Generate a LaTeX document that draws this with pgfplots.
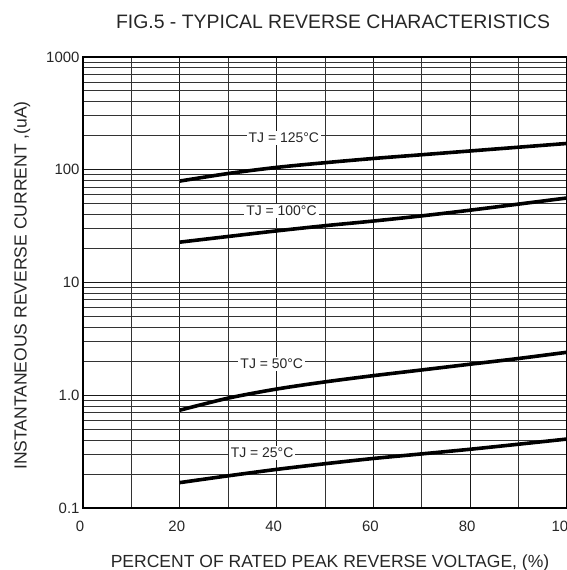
\documentclass[border=0pt]{standalone}
\usepackage{pgfplots}
\pgfplotsset{compat=1.18}
\usepackage{fontspec}
\setmainfont{Liberation Sans}
\begin{document}
\begin{tikzpicture}
\begin{axis}[
  name=ax,
  scale only axis,
  width=484bp, height=451bp,
  xmin=0, xmax=100,
  ymode=log, ymin=0.1, ymax=1000,
  xtick={0,20,40,60,80,100},
  xticklabels={0,20,40,60,80,100},
  minor xtick={10,30,50,70,90},
  ytick={0.1,1,10,100,1000},
  yticklabels={0.1,1.0,10,100,1000},
  minor ytick={0.2,0.3,0.4,0.5,0.6,0.7,0.8,0.9,2,3,4,5,6,7,8,9,20,30,40,50,60,70,80,90,200,300,400,500,600,700,800,900},
  grid=both,
  major grid style={black!90, line width=1.1bp},
  minor grid style={black!80, line width=1bp},
  axis line style={black, line width=1.8bp},
  tick style={draw=none},
  major tick length=0pt, minor tick length=0pt,
  ticklabel style={font=\fontsize{15}{17}\selectfont, text=black!85},
  xticklabel style={yshift=-10bp, xshift=-3bp},
  yticklabel style={xshift=0bp},
]
\addplot[black, line width=3.6bp, smooth] coordinates {
 (20,79.4) (30,92.6) (40,104.9) (50,115.5) (60,125.9) (70,135.9) (80,146.8) (90,158.5) (100,171.1)};
\addplot[black, line width=3.6bp, smooth] coordinates {
 (20,22.8) (30,25.6) (40,28.7) (50,31.9) (60,35.1) (70,39.0) (80,43.8) (90,49.6) (100,56.2)};
\addplot[black, line width=3.6bp, smooth] coordinates {
 (20,0.737) (30,0.943) (40,1.135) (50,1.314) (60,1.492) (70,1.677) (80,1.886) (90,2.119) (100,2.406)};
\addplot[black, line width=3.6bp, smooth] coordinates {
 (20,0.168) (30,0.193) (40,0.220) (50,0.247) (60,0.275) (70,0.302) (80,0.332) (90,0.368) (100,0.409)};
\node[fill=white, inner sep=2bp, font=\fontsize{14}{16}\selectfont, text=black!85] at (axis cs:41.5,192) {TJ = 125°C};
\node[fill=white, inner sep=2bp, font=\fontsize{14}{16}\selectfont, text=black!85] at (axis cs:41,43) {TJ = 100°C};
\node[fill=white, inner sep=2bp, font=\fontsize{14}{16}\selectfont, text=black!85] at (axis cs:39,1.9) {TJ = 50°C};
\node[fill=white, inner sep=2bp, font=\fontsize{14}{16}\selectfont, text=black!85] at (axis cs:37,0.31) {TJ = 25°C};
\end{axis}
\node[anchor=base, font=\fontsize{19.5}{22}\selectfont, text=black!85] at ([xshift=8bp, yshift=28bp]ax.north) {FIG.5 - TYPICAL REVERSE CHARACTERISTICS};
\node[anchor=base, font=\fontsize{17.6}{20}\selectfont, text=black!85] at ([xshift=5bp, yshift=-59bp]ax.south) {PERCENT OF RATED PEAK REVERSE VOLTAGE, (\%)};
\node[rotate=90, font=\fontsize{17.6}{20}\selectfont, text=black!85] at ([xshift=-61bp, yshift=-3bp]ax.west) {INSTANTANEOUS REVERSE CURRENT ,(uA)};
\pgfresetboundingbox
\path ([xshift=-83bp, yshift=-62bp]ax.south west) rectangle ([yshift=57bp]ax.north east);
\end{tikzpicture}
\end{document}
